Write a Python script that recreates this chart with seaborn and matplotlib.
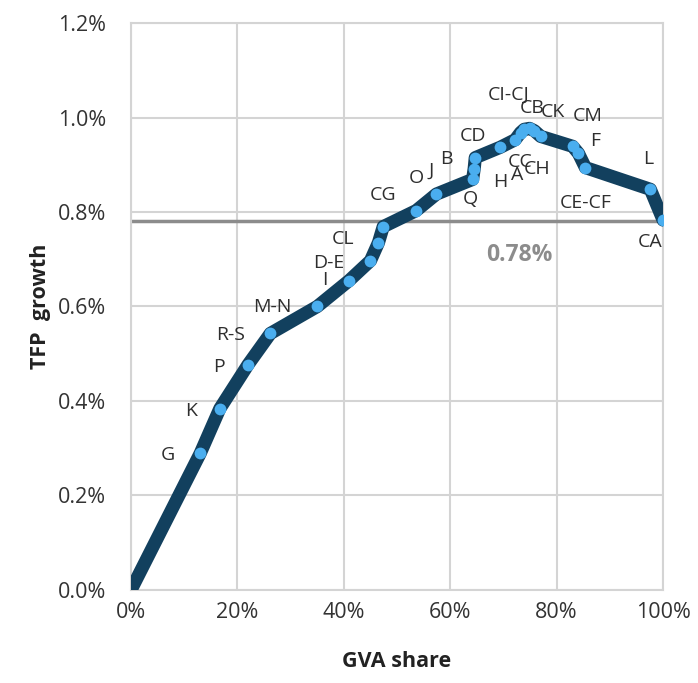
import matplotlib
matplotlib.use("Agg")
import matplotlib.pyplot as plt
import seaborn as sns
import pandas as pd
from matplotlib.ticker import PercentFormatter, MultipleLocator

# cumulative GVA share (%) and cumulative TFP growth (%) by industry
labels = ["G", "K", "P", "R-S", "M-N", "I", "D-E", "CL", "CG", "O", "J", "Q", "B",
          "CD", "H", "A", "CC", "CH", "CI-CJ", "CB", "CK", "CM", "F", "CE-CF", "L", "CA"]
gva_share = [13.0, 16.7, 22.0, 26.2, 35.0, 41.0, 45.0, 46.5, 47.4, 53.6, 57.4, 64.2, 64.5,
             64.7, 69.4, 72.2, 73.2, 73.9, 74.9, 75.8, 77.0, 83.0, 84.1, 85.4, 97.6, 100.0]
tfp_growth = [0.289, 0.384, 0.477, 0.543, 0.600, 0.655, 0.697, 0.735, 0.769, 0.803, 0.838,
              0.869, 0.892, 0.915, 0.937, 0.953, 0.968, 0.975, 0.977, 0.972, 0.960, 0.939,
              0.924, 0.894, 0.848, 0.783]
total_tfp = 0.78

# label offsets in pixels (dx, dy)
label_offsets = [(-32, -2), (-29, -2), (-29, -2), (-40, -2), (-45, -1), (-24, 1), (-42, -2),
                 (-35, 4), (0, 32), (0, 33), (-5, 23), (-2, -20), (-28, 10),
                 (-2, 22), (0, -35), (2, -35), (0, -29), (13, -40), (-21, 34), (-2, 23),
                 (12, 24), (15, 30), (17, 12), (0, -35), (-2, 30), (-13, -22)]

df = pd.DataFrame({"share": [0.0] + gva_share, "tfp": [0.0] + tfp_growth})
pts = pd.DataFrame({"share": gva_share, "tfp": tfp_growth, "label": labels})

sns.set_style("white")
plt.rcParams["font.family"] = ["Open Sans", "DejaVu Sans"]

fig = plt.figure(figsize=(6.98, 6.83), dpi=100)
ax = fig.add_axes([0.1877, 0.1362, 0.7623, 0.8301])

grid_col = "#d4d4d4"
ax.set_xlim(0, 100)
ax.set_ylim(0, 1.2)
ax.xaxis.set_major_locator(MultipleLocator(20))
ax.yaxis.set_major_locator(MultipleLocator(0.2))
ax.xaxis.set_major_formatter(PercentFormatter(100, decimals=0))
ax.yaxis.set_major_formatter(PercentFormatter(100, decimals=1))
ax.grid(True, color=grid_col, linewidth=1.5)
ax.set_axisbelow(True)
for s in ax.spines.values():
    s.set_color(grid_col)
    s.set_linewidth(1.5)

ax.axhline(total_tfp, color="#8c8c8c", linewidth=2.5, zorder=2)

sns.lineplot(data=df, x="share", y="tfp", sort=False, color="#12405e", linewidth=9.5,
             ax=ax, zorder=3, solid_joinstyle="round")
sns.scatterplot(data=pts, x="share", y="tfp", color="#4aaeef", s=72, linewidth=0,
                ax=ax, zorder=4)

for (lab, x, y), (dx, dy) in zip(zip(labels, gva_share, tfp_growth), label_offsets):
    ax.annotate(lab, (x, y), xytext=(dx, dy), textcoords="offset pixels",
                ha="center", va="center", fontsize=14, color="#2e2e2e", zorder=5)

ax.annotate(f"{total_tfp:.2f}%", (80, total_tfp), xytext=(-37, -34), textcoords="offset pixels",
            ha="center", va="center", fontsize=16.5, fontweight="bold", color="#8c8c8c")

ax.tick_params(axis="both", length=0, labelsize=15.5, labelcolor="#333333")
ax.tick_params(axis="y", pad=18)
ax.tick_params(axis="x", pad=9)
ax.set_xlabel("GVA share", fontsize=15.5, fontweight="bold", color="#222222", labelpad=20)
ax.set_ylabel("TFP  growth", fontsize=15.5, fontweight="bold", color="#222222", labelpad=5)

fig.savefig("out.png", dpi=100)
